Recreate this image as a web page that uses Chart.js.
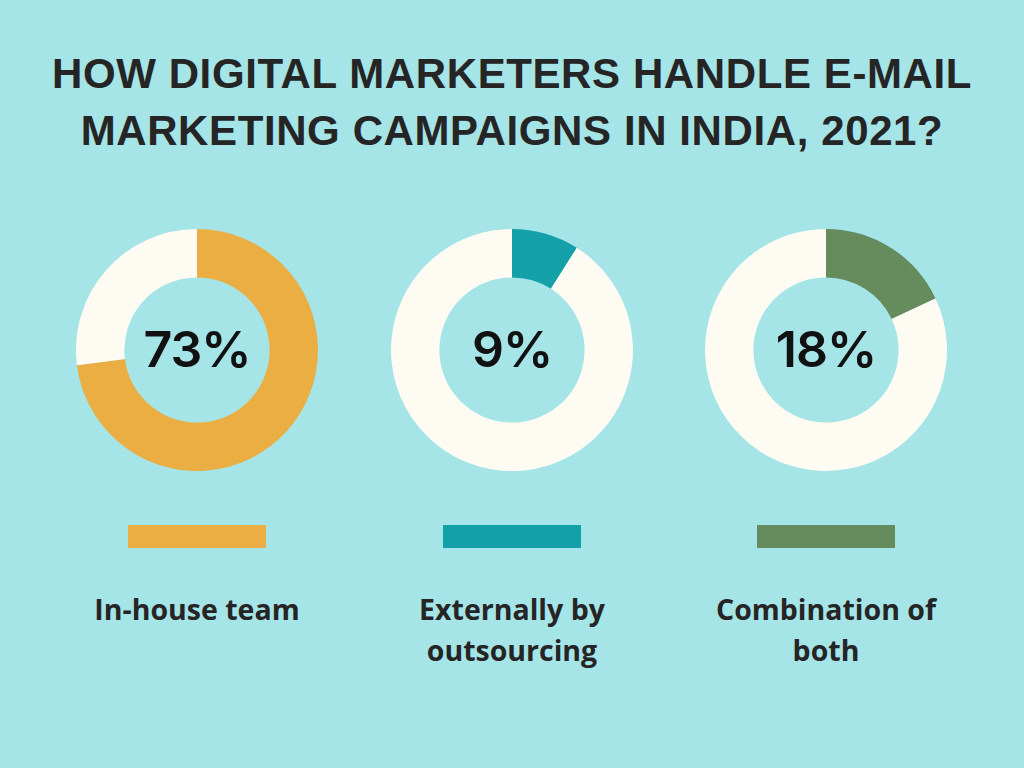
<!DOCTYPE html>
<html>
<head>
<meta charset="utf-8">
<script src="https://cdn.jsdelivr.net/npm/chart.js@4"></script>
<style>
  body { margin: 0; width: 1024px; height: 768px; background: #A5E4E7; overflow: hidden; position: relative; font-family: "Open Sans", sans-serif; color: #252525; }
  h1 { position: absolute; top: 45px; left: 0; width: 1024px; margin: 0; text-align: center; font-family: "Liberation Sans", Arial, sans-serif; font-size: 42px; line-height: 57px; font-weight: 700; letter-spacing: 0.6px; }
  .box { position: absolute; width: 242px; height: 242px; top: 229px; }
  .swatch { position: absolute; top: 525px; width: 138px; height: 23px; }
  .label { position: absolute; top: 589px; width: 320px; text-align: center; font-size: 28.5px; line-height: 41px; font-weight: 700; }
</style>
</head>
<body>
<h1>HOW DIGITAL MARKETERS HANDLE E-MAIL<br>MARKETING CAMPAIGNS IN INDIA, 2021?</h1>
<div class="box" style="left:76px"><canvas id="chart0" width="242" height="242"></canvas></div>
<div class="box" style="left:391px"><canvas id="chart1" width="242" height="242"></canvas></div>
<div class="box" style="left:705px"><canvas id="chart2" width="242" height="242"></canvas></div>
<div id="legend"></div>
<script>
let categories = ['In-house team', 'Externally by\noutsourcing', 'Combination of\nboth'];
let shares = [73, 9, 18];
let colors = ['#EBAE42', '#13A0A8', '#668C5E'];
let restColor = '#FEFBF2';
let centers = [197, 512, 826];

let centerText = {
    id: 'centerText',
    afterDraw(chart) {
        let ctx = chart.ctx;
        let meta = chart.getDatasetMeta(0).data[0];
        ctx.save();
        ctx.font = '600 50px Inter, "Open Sans", sans-serif';
        ctx.letterSpacing = '-1px';
        ctx.fillStyle = '#111';
        ctx.textAlign = 'center';
        ctx.textBaseline = 'middle';
        ctx.fillText(chart.options.plugins.centerText.text, meta.x, meta.y + 2);
        ctx.restore();
    }
};

let legend = document.getElementById('legend');
shares.forEach((v, i) => {
    new Chart(document.getElementById('chart' + i).getContext('2d'), {
        type: 'doughnut',
        data: {
            labels: [categories[i], 'Other'],
            datasets: [{
                data: [v, 100 - v],
                backgroundColor: [colors[i], restColor],
                borderWidth: 0
            }]
        },
        options: {
            responsive: false,
            animation: false,
            cutout: '60%',
            layout: { padding: 0 },
            plugins: {
                legend: { display: false },
                tooltip: { enabled: false },
                centerText: { text: v + '%' }
            }
        },
        plugins: [centerText]
    });

    let sw = document.createElement('div');
    sw.className = 'swatch';
    sw.style.left = (centers[i] - 69) + 'px';
    sw.style.background = colors[i];
    legend.appendChild(sw);

    let lb = document.createElement('div');
    lb.className = 'label';
    lb.style.left = (centers[i] - 160) + 'px';
    lb.innerHTML = categories[i].replace('\n', '<br>');
    legend.appendChild(lb);
});
</script>
</body>
</html>
